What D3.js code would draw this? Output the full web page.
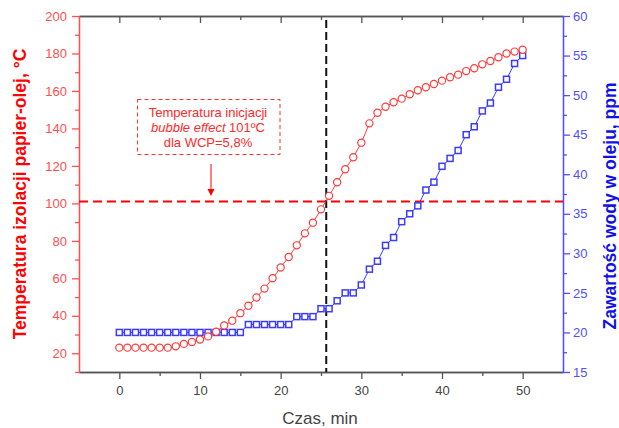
<!DOCTYPE html>
<html><head><meta charset="utf-8">
<script src="https://cdn.jsdelivr.net/npm/d3@7/dist/d3.min.js"></script>
<style>body{margin:0;background:#fff}svg{display:block;font-family:"Liberation Sans",Arial,sans-serif}</style>
</head><body><svg id="c" width="619" height="428"></svg>
<script>
const time = d3.range(0, 51);
const temperature = [23,23,23,23,23,23,23,23.7,25,26,27.3,29,31.5,34.8,37.4,41.4,45.4,49.8,54.5,60,65.8,71.4,77.6,84,89.7,96.8,104,111.3,118.2,124.6,132.4,142.7,148.4,151.6,154,155.9,158.2,160.4,162,163.7,165.5,167.3,168.7,170.6,172.1,174.2,176,178,180,181,182];
const water = [20,20,20,20,20,20,20,20,20,20,20,20,20,20,20,20,21,21,21,21,21,21,22,22,22,23,23,24,25,25,26,28,29,31,32,34,35,36,38,39,41,42,43,45,46,48,49,51,52,54,55];
const xTicks = [0,10,20,30,40,50];
const xMinor = [5,15,25,35,45];
const leftTicks = [20,40,60,80,100,120,140,160,180,200];
const leftMinor = [10,30,50,70,90,110,130,150,170,190];
const rightTicks = [15,20,25,30,35,40,45,50,55,60];
const rightMinor = [17.5,22.5,27.5,32.5,37.5,42.5,47.5,52.5,57.5];
const bubbleTemp = 101;
const bubbleTime = 25.65;
const noteLines = ["Temperatura inicjacji", "bubble effect|101ºC", "dla WCP=5,8%"];

const svg = d3.select("#c");
const L = 79, R = 563, T = 16, B = 372;
const x = d3.scaleLinear().domain([-5,55]).range([L,R]);
const yL = d3.scaleLinear().domain([10,200]).range([B,T]);
const yR = d3.scaleLinear().domain([15,60]).range([B,T]);

const gray = "#555", red = "#ff3b3b", blue = "#3b3bff";

function style(g, col, tcol, fs){
  g.select(".domain").attr("stroke", col).attr("stroke-width",1.3);
  g.selectAll(".tick line").attr("stroke", col).attr("stroke-width",1.3);
  g.selectAll(".tick text").attr("fill", tcol).attr("font-size", fs).attr("font-family","Liberation Sans, Arial, sans-serif");
}
// bottom
let g = svg.append("g").attr("transform",`translate(0,${B})`).call(d3.axisBottom(x).tickValues(xTicks).tickSize(7).tickPadding(7).tickSizeOuter(0));
style(g, gray, "#444", 13);
g = svg.append("g").attr("transform",`translate(0,${B})`).call(d3.axisBottom(x).tickValues(xMinor).tickSize(4).tickFormat("").tickSizeOuter(0));
style(g, gray, "#444", 13);
// top
g = svg.append("g").attr("transform",`translate(0,${T})`).call(d3.axisTop(x).tickValues(xTicks).tickSize(-7).tickFormat("").tickSizeOuter(0));
style(g, gray, "#444", 13);
g = svg.append("g").attr("transform",`translate(0,${T})`).call(d3.axisTop(x).tickValues(xMinor).tickSize(-4).tickFormat("").tickSizeOuter(0));
style(g, gray, "#444", 13);
// left
g = svg.append("g").attr("transform",`translate(${L},0)`).call(d3.axisLeft(yL).tickValues(leftTicks).tickSize(7).tickPadding(5).tickSizeOuter(0));
style(g, "#ff5050", "#ff5050", 13);
g = svg.append("g").attr("transform",`translate(${L},0)`).call(d3.axisLeft(yL).tickValues(leftMinor).tickSize(4).tickFormat("").tickSizeOuter(0));
style(g, "#ff5050", "#ff5050", 13);
// right
g = svg.append("g").attr("transform",`translate(${R},0)`).call(d3.axisRight(yR).tickValues(rightTicks).tickSize(7).tickPadding(3).tickSizeOuter(0));
style(g, "#5050ff", "#5050ff", 13);
g = svg.append("g").attr("transform",`translate(${R},0)`).call(d3.axisRight(yR).tickValues(rightMinor).tickSize(4).tickFormat("").tickSizeOuter(0));
style(g, "#5050ff", "#5050ff", 13);

// axis titles
svg.append("text").attr("transform",`translate(26,194) rotate(-90)`).attr("text-anchor","middle")
  .attr("font-size",17.5).attr("font-weight","bold").attr("fill","#f00").text("Temperatura izolacji papier-olej, °C");
svg.append("text").attr("transform",`translate(616,206) rotate(-90)`).attr("text-anchor","middle")
  .attr("font-size",17.5).attr("font-weight","bold").attr("fill","#1010e8").text("Zawartość wody w oleju, ppm");
svg.append("text").attr("x",320).attr("y",423.5).attr("text-anchor","middle").attr("font-size",17).attr("fill","#444").text("Czas, min");

// reference lines
svg.append("line").attr("x1",L).attr("x2",R).attr("y1",yL(bubbleTemp)).attr("y2",yL(bubbleTemp))
  .attr("stroke","#f00").attr("stroke-width",2).attr("stroke-dasharray","9,5");
svg.append("line").attr("x1",x(bubbleTime)).attr("x2",x(bubbleTime)).attr("y1",T+4).attr("y2",B)
  .attr("stroke","#111").attr("stroke-width",2).attr("stroke-dasharray","8,4");

// series
const redData = time.map((t,i)=>[t,temperature[i]]);
const blueData = time.map((t,i)=>[t,water[i]]);
svg.append("path").datum(blueData).attr("fill","none").attr("stroke",blue).attr("stroke-width",1)
  .attr("d", d3.line().x(d=>x(d[0])).y(d=>yR(d[1])));
svg.append("path").datum(redData).attr("fill","none").attr("stroke",red).attr("stroke-width",1)
  .attr("d", d3.line().x(d=>x(d[0])).y(d=>yL(d[1])));
svg.append("g").selectAll("rect").data(blueData).join("rect")
  .attr("x",d=>x(d[0])-3).attr("y",d=>yR(d[1])-3).attr("width",6).attr("height",6)
  .attr("fill","white").attr("stroke",blue).attr("stroke-width",1.5);
svg.append("g").selectAll("circle").data(redData).join("circle")
  .attr("cx",d=>x(d[0])).attr("cy",d=>yL(d[1])).attr("r",3.6)
  .attr("fill","white").attr("stroke",red).attr("stroke-width",1.2);

// annotation
svg.append("rect").attr("x",137.5).attr("y",99.5).attr("width",142.5).attr("height",55)
  .attr("fill","white").attr("stroke","#ff3030").attr("stroke-width",1).attr("stroke-dasharray","4,3");
const tcx = 208;
const baselines = [117,132,147];
noteLines.forEach((ln,i)=>{
  const t = svg.append("text").attr("x",tcx).attr("y",baselines[i]).attr("text-anchor","middle")
    .attr("font-size",13).attr("fill","#ff2a2a");
  if (ln.includes("|")) {
    const [a,b] = ln.split("|");
    t.append("tspan").attr("font-style","italic").text(a);
    t.append("tspan").text(" " + b);
  } else t.text(ln);
});
svg.append("line").attr("x1",211).attr("x2",211).attr("y1",164).attr("y2",189).attr("stroke","#f00").attr("stroke-width",1);
svg.append("path").attr("d","M207.5,189 L214.5,189 L211,196 Z").attr("fill","#f00");
</script></body></html>
